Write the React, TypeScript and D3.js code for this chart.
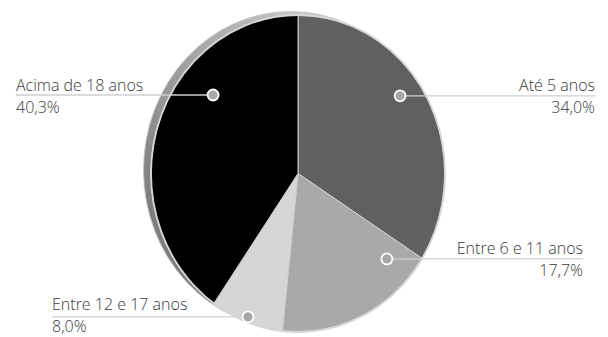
import React from "react";
import * as d3 from "d3";

const categories = ["Até 5 anos", "Entre 6 e 11 anos", "Entre 12 e 17 anos", "Acima de 18 anos"];
const values = [34.0, 17.7, 8.0, 40.3];
const valueLabels = ["34,0%", "17,7%", "8,0%", "40,3%"];
const colors = ["#5e6061", "#a8a9a9", "#d5d6d6", "#000000"];

// annotation layout: dot angle (deg, clockwise from top), radius fraction, label side, text edge, line offsets
const annoAngle = [54.8, 131.7, 200.6, 310.6];
const annoRadius = [0.85, 0.81, 0.967, 0.761];
const annoSide = ["right", "right", "left", "left"];
const annoEdge = [595, 583, 52, 16];
const annoNameOffset = [-4.5, -4.5, -7, -4.5];
const annoValueOffset = [17.5, 17.5, 15.2, 17.5];

const W = 608;
const H = 337;
const cx = 298;
const cy = 173.5;
const rx = 147;
const ry = 158.5;
const R = 100;

export default function App() {
  const pie = d3.pie<number>().sort(null).value((d) => d)(values);
  const arc = d3.arc<d3.PieArcDatum<number>>().innerRadius(0).outerRadius(R);
  const sx = rx / R;
  const sy = ry / R;
  const font = "'Open Sans', sans-serif";
  const fs = 16;

  return (
    <svg width={W} height={H} style={{ position: "absolute", left: 0, top: 0, background: "#fff" }}>
      <defs>
        <linearGradient id="rim" x1="0.75" y1="0" x2="0.1" y2="0.7">
          <stop offset="0" stopColor="#d4d4d4" />
          <stop offset="0.45" stopColor="#a9aaab" />
          <stop offset="1" stopColor="#7b7d7e" />
        </linearGradient>
      </defs>
      <ellipse cx={cx - 7.5} cy={cy - 3.5} rx={rx} ry={ry} fill="url(#rim)" stroke="#c4c4c4" strokeWidth={1} />
      <g transform={`translate(${cx},${cy}) scale(${sx},${sy})`}>
        {pie.map((p, i) => (
          <path
            key={categories[i]}
            d={arc(p) || ""}
            fill={colors[i]}
            stroke="#cfd0d0"
            strokeWidth={1}
            vectorEffect="non-scaling-stroke"
          />
        ))}
        <ellipse cx={0} cy={0} rx={R} ry={R} fill="none" stroke="#d6d6d6" strokeWidth={1.8} vectorEffect="non-scaling-stroke" />
      </g>
      {categories.map((c, i) => {
        const a = (annoAngle[i] * Math.PI) / 180;
        const dx = cx + Math.sin(a) * annoRadius[i] * rx;
        const dy = cy - Math.cos(a) * annoRadius[i] * ry;
        const right = annoSide[i] === "right";
        const edge = annoEdge[i];
        return (
          <g key={c}>
            <line x1={dx} y1={dy} x2={edge} y2={dy} stroke="#cfcfcf" strokeWidth={1.3} />
            <circle cx={dx} cy={dy} r={5.5} fill="#a6a7a9" stroke="#ffffff" strokeWidth={1.8} />
            <text
              x={edge}
              y={dy + annoNameOffset[i]}
              textAnchor={right ? "end" : "start"}
              fontFamily={font}
              fontWeight={300}
              fontSize={fs}
              fill="#3a3a3a"
            >
              {c}
            </text>
            <text
              x={edge}
              y={dy + annoValueOffset[i]}
              textAnchor={right ? "end" : "start"}
              fontFamily={font}
              fontWeight={300}
              fontSize={fs}
              fill="#3a3a3a"
            >
              {valueLabels[i]}
            </text>
          </g>
        );
      })}
    </svg>
  );
}
